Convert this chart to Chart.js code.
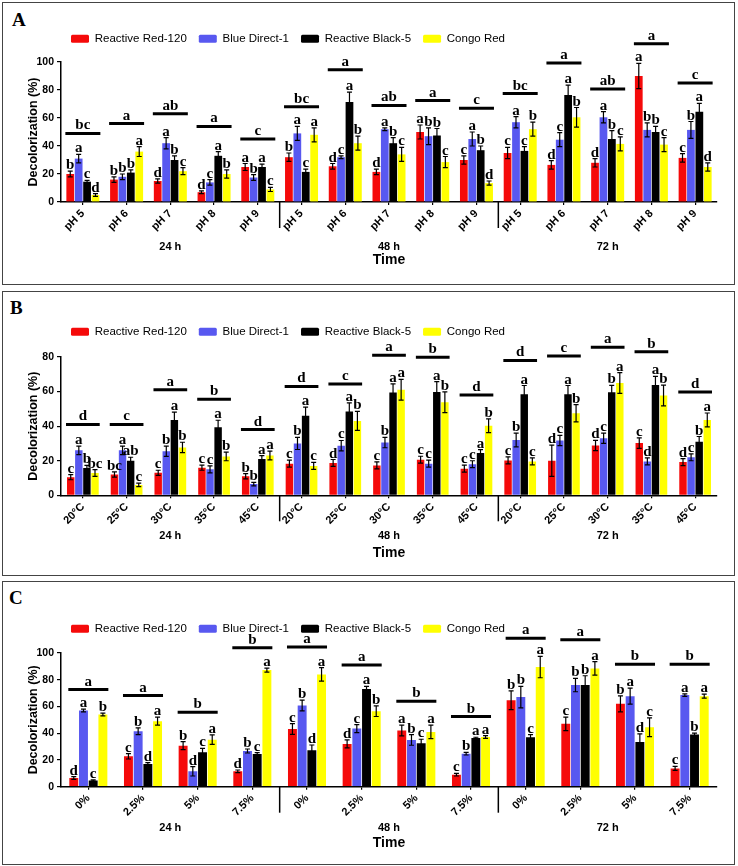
<!DOCTYPE html>
<html>
<head>
<meta charset="utf-8">
<script src="https://cdn.jsdelivr.net/npm/chart.js@4"></script>
<style>
  body { margin: 0; background: #fff; width: 738px; height: 866px; position: relative; overflow: hidden; }
  .panel { position: absolute; left: 2px; width: 733px; border: 1.5px solid #444; box-sizing: border-box; }
  .tag { position: absolute; font: bold 19px "Liberation Serif", "Times New Roman", serif; line-height: 20px; }
  canvas { position: absolute; left: 0; }
</style>
</head>
<body>
<div class="panel" style="top:2px;height:283px"></div>
<div class="panel" style="top:291px;height:285px"></div>
<div class="panel" style="top:581px;height:284px"></div>
<div class="tag" style="left:12px;top:10px">A</div>
<div class="tag" style="left:10px;top:298px">B</div>
<div class="tag" style="left:9px;top:588px">C</div>
<canvas id="chartA" width="738" height="288" style="top:0"></canvas>
<canvas id="chartB" width="738" height="290" style="top:288px"></canvas>
<canvas id="chartC" width="738" height="288" style="top:578px"></canvas>
<script>
// series + time blocks
const series = ['Reactive Red-120', 'Blue Direct-1', 'Reactive Black-5', 'Congo Red'];
const colors = ['#f50a0a', '#5858f0', '#000000', '#ffff00'];
const times = ['24 h', '48 h', '72 h'];

// --- A: pH (24 h | 48 h | 72 h) ---
const phLevels = ['pH 5', 'pH 6', 'pH 7', 'pH 8', 'pH 9'];
const phRed = [20, 16, 15, 7, 25, 32, 25.5, 21.5, 50, 30, 35, 26.5, 28, 90, 31.5];
const phBlue = [31, 18, 42, 14, 17.5, 49, 32, 52, 47, 45, 57, 44.5, 60.5, 51.5, 51.5];
const phBlack = [14.5, 21, 30, 33, 25, 21.5, 71.5, 42, 47.5, 37, 36.5, 76.5, 45, 50, 64.5];
const phCongo = [5, 36, 22, 20, 9, 48, 42, 34, 28.5, 13.5, 52, 60.5, 41.5, 41, 25];
const phRedErr = [2, 2, 1.5, 1, 2.5, 3, 2, 2, 5, 3, 4, 3, 3, 9, 3];
const phBlueErr = [3, 2, 4, 2, 2, 5, 1, 1, 6, 5, 4, 5, 4, 5, 6];
const phBlackErr = [1, 2, 3, 3, 2, 2, 7, 4, 5, 3, 3, 7, 6, 4, 6];
const phCongoErr = [1, 3.5, 2.5, 3, 1.5, 5, 5, 5, 4, 1.5, 5, 7, 5, 5, 3];
const phRedSig = ['b', 'b', 'd', 'd', 'a', 'b', 'd', 'd', 'a', 'c', 'c', 'd', 'd', 'a', 'c'];
const phBlueSig = ['a', 'b', 'a', 'c', 'b', 'a', 'c', 'a', 'b', 'a', 'a', 'c', 'a', 'b', 'b'];
const phBlackSig = ['c', 'b', 'b', 'a', 'a', 'c', 'a', 'b', 'b', 'b', 'c', 'a', 'b', 'b', 'a'];
const phCongoSig = ['d', 'a', 'c', 'b', 'c', 'a', 'b', 'c', 'c', 'd', 'b', 'b', 'c', 'c', 'd'];
const phGroup = [49, 56, 63, 54, 45, 68, 94.5, 69, 72.5, 67, 77.5, 99.3, 80.7, 113, 85];
const phGroupSig = ['bc', 'a', 'ab', 'a', 'c', 'bc', 'a', 'ab', 'a', 'c', 'bc', 'a', 'ab', 'a', 'c'];

// --- B: temperature ---
const tempLevels = ['20°C', '25°C', '30°C', '35°C', '45°C'];
const tRed = [10.5, 12, 13, 16, 11, 18.3, 18.7, 17.3, 20.6, 15.4, 20.2, 20, 28.8, 30.2, 19.2];
const tBlue = [26, 26, 25.5, 15, 6.5, 30, 28.7, 30.5, 18.3, 18, 32, 31.7, 33, 19.6, 22];
const tBlack = [15.8, 20, 43.6, 39.4, 21, 46, 48.5, 59.4, 59.8, 24.4, 58.5, 58.5, 59.6, 63.8, 31];
const tCongo = [12.9, 6, 27.7, 22.5, 23, 17, 43, 61, 53.8, 40.2, 19.6, 47.5, 65, 57.7, 43.6];
const tRedErr = [1.5, 1.5, 1.5, 1.5, 1.5, 2, 2, 2, 2, 2, 2, 9, 3, 3, 2];
const tBlueErr = [2.5, 2.5, 3, 2, 1, 3.5, 3, 3, 2, 2, 4, 3, 3, 2, 2];
const tBlackErr = [1.5, 2, 4.5, 4, 2, 5, 5, 5, 6, 2, 5, 5, 4, 5, 3];
const tCongoErr = [2, 1, 3, 2.5, 2.5, 2, 5.5, 6, 6, 4, 2, 5, 6, 6, 4];
const tRedSig = ['c', 'bc', 'c', 'c', 'b', 'c', 'd', 'c', 'c', 'c', 'c', 'd', 'd', 'c', 'd'];
const tBlueSig = ['a', 'a', 'b', 'c', 'b', 'b', 'c', 'b', 'c', 'c', 'b', 'c', 'c', 'd', 'c'];
const tBlackSig = ['b', 'ab', 'a', 'a', 'a', 'a', 'a', 'a', 'a', 'a', 'a', 'a', 'b', 'a', 'b'];
const tCongoSig = ['bc', 'c', 'b', 'b', 'a', 'c', 'b', 'a', 'b', 'b', 'c', 'b', 'a', 'b', 'a'];
const tGroup = [41, 41, 61, 55.6, 38, 63, 64.4, 81, 79.8, 58, 78, 80.6, 85.6, 83, 59.8];
const tGroupSig = ['d', 'c', 'a', 'b', 'd', 'd', 'c', 'a', 'b', 'd', 'd', 'c', 'a', 'b', 'd'];

// --- C: concentration ---
const concLevels = ['0%', '2.5%', '5%', '7.5%'];
const cRed = [6.5, 22.7, 30.7, 11.5, 43.2, 32, 42, 9, 64.7, 47, 62, 13.7];
const cBlue = [57, 41.5, 11.5, 26.7, 60.7, 43.5, 35, 24.7, 67, 76, 67.7, 68.5];
const cBlack = [4.7, 17, 25.7, 24.5, 27.2, 73, 32.5, 36.5, 37, 76, 33.5, 39];
const cCongo = [54, 49, 35.2, 87.2, 84, 56.5, 41, 37.2, 89.5, 88.5, 44.5, 67.7];
const cRedErr = [1, 2, 3, 1, 4, 3, 4, 1, 7, 5, 6, 1.5];
const cBlueErr = [1, 2.5, 3.5, 1.5, 4, 3, 4, 1, 8, 5, 6, 1];
const cBlackErr = [0.5, 1, 3, 1, 4, 2, 3, 0.5, 2, 7, 6, 1];
const cCongoErr = [1, 3, 3.5, 1.5, 5, 4, 5, 1, 8, 5, 7, 1.5];
const cRedSig = ['d', 'c', 'b', 'd', 'c', 'd', 'a', 'c', 'b', 'c', 'b', 'c'];
const cBlueSig = ['a', 'b', 'd', 'b', 'b', 'c', 'b', 'b', 'b', 'b', 'a', 'a'];
const cBlackSig = ['c', 'd', 'c', 'c', 'd', 'a', 'c', 'a', 'c', 'b', 'd', 'b'];
const cCongoSig = ['b', 'a', 'a', 'a', 'a', 'b', 'a', 'a', 'a', 'a', 'c', 'a'];
const cGroup = [72.7, 68.2, 55.7, 104, 104.5, 91, 64, 52.5, 111, 110, 91.5, 91.5];
const cGroupSig = ['a', 'a', 'b', 'b', 'a', 'a', 'b', 'b', 'a', 'a', 'b', 'b'];

const SANS = 'Arial, "Liberation Sans", sans-serif';
const SERIF = '"Liberation Serif", "Times New Roman", serif';

// error bars, letters, group lines, block separators, time labels
const decor = {
  id: 'decor',
  beforeInit(chart) {
    const lg = chart.legend;
    const fit = lg.fit;
    lg.fit = function () {
      fit.call(this);
      this.height = chart.options.plugins.decor.legendHeight;
    };
  },
  afterLayout(chart, args, o) {
    const lg = chart.legend;
    const w = lg.right - lg.left;
    lg.left = o.legendX - chart.options.plugins.legend.labels.padding;
    lg.right = lg.left + w;
  },
  afterDatasetsDraw(chart, args, o) {
    const ctx = chart.ctx;
    const y = chart.scales.y;
    ctx.save();
    ctx.strokeStyle = '#000';
    ctx.fillStyle = '#000';
    ctx.textAlign = 'center';
    ctx.textBaseline = 'alphabetic';
    ctx.font = 'bold 15px ' + SERIF;
    chart.data.datasets.forEach((ds, di) => {
      chart.getDatasetMeta(di).data.forEach((bar, i) => {
        const v = ds.data[i], e = o.errors[di][i];
        const top = y.getPixelForValue(v + e);
        const bot = y.getPixelForValue(Math.max(v - e, 0));
        ctx.lineWidth = 1.2;
        ctx.beginPath();
        ctx.moveTo(bar.x, top); ctx.lineTo(bar.x, bot);
        ctx.moveTo(bar.x - 2.5, top); ctx.lineTo(bar.x + 2.5, top);
        ctx.moveTo(bar.x - 2.5, bot); ctx.lineTo(bar.x + 2.5, bot);
        ctx.stroke();
        ctx.fillText(o.sig[di][i], bar.x, top - 2);
      });
    });
    const first = chart.getDatasetMeta(0).data;
    const last = chart.getDatasetMeta(chart.data.datasets.length - 1).data;
    o.group.forEach((g, i) => {
      const x0 = first[i].x - first[i].width / 2 - 1;
      const x1 = last[i].x + last[i].width / 2 + 1;
      const py = y.getPixelForValue(g);
      ctx.lineWidth = 3;
      ctx.beginPath();
      ctx.moveTo(x0, py); ctx.lineTo(x1, py);
      ctx.stroke();
      ctx.fillText(o.groupSig[i], (x0 + x1) / 2, py - 4);
    });
    ctx.restore();
  },
  afterDraw(chart, args, o) {
    const ctx = chart.ctx;
    const x = chart.scales.x;
    const bottom = chart.chartArea.bottom;
    const n = o.perBlock;
    ctx.save();
    ctx.strokeStyle = '#000';
    ctx.fillStyle = '#000';
    ctx.lineWidth = 1.5;
    for (let b = 1; b < times.length; b++) {
      const sx = (x.getPixelForValue(b * n - 1) + x.getPixelForValue(b * n)) / 2;
      ctx.beginPath();
      ctx.moveTo(sx, bottom); ctx.lineTo(sx, bottom + 26);
      ctx.stroke();
    }
    ctx.font = 'bold 11px ' + SANS;
    ctx.textAlign = 'center';
    ctx.textBaseline = 'middle';
    times.forEach((t, b) => {
      const cx = (x.getPixelForValue(b * n) + x.getPixelForValue(b * n + n - 1)) / 2;
      ctx.fillText(t, cx, bottom + o.timeY);
    });
    ctx.restore();
  }
};

function makePanel(p) {
  const labels = times.flatMap(() => p.levels);
  new Chart(document.getElementById(p.id), {
    type: 'bar',
    data: {
      labels: labels,
      datasets: series.map((name, k) => ({
        label: name,
        data: p.vals[k],
        backgroundColor: colors[k],
        borderWidth: 0,
        categoryPercentage: p.cat,
        barPercentage: 0.92
      }))
    },
    options: {
      responsive: false,
      animation: false,
      layout: { padding: p.pad },
      scales: {
        x: {
          grid: { drawOnChartArea: false, offset: false, tickLength: 3, color: '#000', lineWidth: 1.2 },
          border: { color: '#000', width: 1.5 },
          ticks: { autoSkip: false, minRotation: 45, maxRotation: 45, color: '#000', padding: 2,
                   font: { family: SANS, weight: 'bold', size: 11 } },
          title: { display: true, text: 'Time', color: '#000', padding: { top: 4, bottom: 4 },
                   font: { family: SANS, weight: 'bold', size: 14 } },
          afterFit: s => { s.height = p.xHeight; }
        },
        y: {
          min: 0,
          max: p.yMax,
          grid: { drawOnChartArea: false, tickLength: 4, color: '#000', lineWidth: 1.2 },
          border: { color: '#000', width: 1.5 },
          ticks: { stepSize: 20, color: '#000', padding: 3, font: { family: SANS, weight: 'bold', size: 10.5 } },
          title: { display: true, text: 'Decolorization (%)', color: '#000', padding: { top: 4, bottom: 4 },
                   font: { family: SANS, weight: 'bold', size: 12.5 } },
          afterFit: s => { s.width = 39; }
        }
      },
      plugins: {
        tooltip: { enabled: false },
        legend: {
          position: 'top',
          align: 'start',
          labels: { boxWidth: 18, boxHeight: 8, padding: 12, color: '#000', useBorderRadius: true, borderRadius: 1.5,
                    font: { family: SANS, size: 11.5 } }
        },
        decor: {
          errors: p.errs, sig: p.sig, group: p.group, groupSig: p.groupSig,
          perBlock: p.levels.length, timeY: p.timeY, legendHeight: p.legendH, legendX: 71
        }
      }
    },
    plugins: [decor]
  });
}

makePanel({
  id: 'chartA', levels: phLevels, yMax: 100, cat: 0.77,
  vals: [phRed, phBlue, phBlack, phCongo],
  errs: [phRedErr, phBlueErr, phBlackErr, phCongoErr],
  sig: [phRedSig, phBlueSig, phBlackSig, phCongoSig],
  group: phGroup, groupSig: phGroupSig,
  pad: { top: 21, bottom: 15, left: 22, right: 21 }, legendH: 41, xHeight: 71, timeY: 45
});
makePanel({
  id: 'chartB', levels: tempLevels, yMax: 80, cat: 0.74,
  vals: [tRed, tBlue, tBlack, tCongo],
  errs: [tRedErr, tBlueErr, tBlackErr, tCongoErr],
  sig: [tRedSig, tBlueSig, tBlackSig, tCongoSig],
  group: tGroup, groupSig: tGroupSig,
  pad: { top: 26, bottom: 12, left: 22, right: 21 }, legendH: 43, xHeight: 70.7, timeY: 41
});
makePanel({
  id: 'chartC', levels: concLevels, yMax: 100, cat: 0.71,
  vals: [cRed, cBlue, cBlack, cCongo],
  errs: [cRedErr, cBlueErr, cBlackErr, cCongoErr],
  sig: [cRedSig, cBlueSig, cBlackSig, cCongoSig],
  group: cGroup, groupSig: cGroupSig,
  pad: { top: 33, bottom: 10, left: 22, right: 21 }, legendH: 42, xHeight: 69.3, timeY: 41
});
</script>
</body>
</html>
